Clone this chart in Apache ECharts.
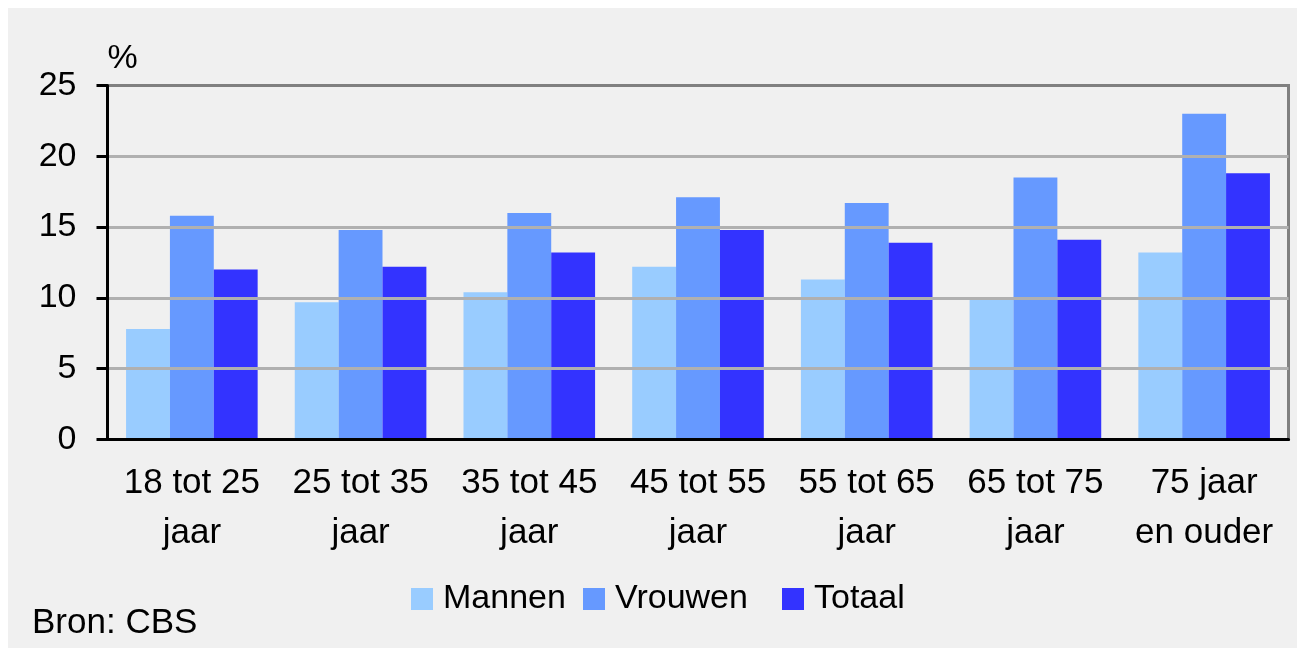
<!DOCTYPE html>
<html>
<head>
<meta charset="utf-8">
<script src="https://cdn.jsdelivr.net/npm/echarts@6/dist/echarts.min.js"></script>
<style>
  html, body { margin: 0; padding: 0; background: #ffffff; }
  #frame { position: absolute; left: 8px; top: 8px; width: 1289px; height: 640px; background: #f0f0f0; }
  #chart { position: absolute; left: -8px; top: -8px; width: 1305px; height: 656px; }
</style>
</head>
<body>
<div id="frame"><div id="chart"></div></div>
<script>
const categories = ['18 tot 25\njaar', '25 tot 35\njaar', '35 tot 45\njaar', '45 tot 55\njaar', '55 tot 65\njaar', '65 tot 75\njaar', '75 jaar\nen ouder'];
const mannen   = [7.8, 9.7, 10.4, 12.2, 11.3, 9.9, 13.2];
const vrouwen  = [15.8, 14.8, 16.0, 17.1, 16.7, 18.5, 23.0];
const totaal   = [12.0, 12.2, 13.2, 14.8, 13.9, 14.1, 18.8];
const seriesNames = ['Mannen', 'Vrouwen', 'Totaal'];
const sourceText = 'Bron: CBS';
const unitText = '%';

const FONT = "'Liberation Sans', Arial, sans-serif";
const legendLefts = [411, 583, 782];
const legends = seriesNames.map((n, i) => ({
  data: [n], left: legendLefts[i], top: 582, padding: 0,
  icon: 'rect', itemWidth: 22, itemHeight: 22, itemGap: 0,
  textStyle: { fontFamily: FONT, fontSize: 34, color: '#000', padding: [0, 0, 0, 5] }
}));

const chart = echarts.init(document.getElementById('chart'), null, { renderer: 'canvas' });
chart.setOption({
  backgroundColor: 'transparent',
  animation: false,
  textStyle: { fontFamily: FONT, color: '#000' },
  grid: {
    left: 107.5, right: 16.5, top: 85.5, bottom: 216.5,
    show: true, borderColor: '#808080', borderWidth: 3, backgroundColor: 'transparent'
  },
  title: {
    text: sourceText, left: 27, top: 601,
    textStyle: { fontFamily: FONT, fontSize: 35, fontWeight: 'normal', color: '#000' }
  },
  legend: legends,
  xAxis: {
    type: 'category', data: categories,
    axisLine: { show: true, lineStyle: { color: '#000', width: 3 } },
    axisTick: { show: false },
    axisLabel: { interval: 0, fontFamily: FONT, fontSize: 35, color: '#000', lineHeight: 50, margin: 19 },
    z: 5
  },
  yAxis: {
    type: 'value', min: 0, max: 25, interval: 5,
    name: unitText, nameLocation: 'end', nameGap: 10,
    nameTextStyle: { fontFamily: FONT, fontSize: 34, color: '#000', align: 'left', padding: [0, 0, 0, 0] },
    axisLine: { show: true, lineStyle: { color: '#000', width: 3 } },
    axisTick: { show: true, length: 11, lineStyle: { color: '#000', width: 3 } },
    axisLabel: { fontFamily: FONT, fontSize: 34, color: '#000', margin: 31 },
    splitLine: { show: true, lineStyle: { color: ['#b0b0b0', '#b0b0b0', '#b0b0b0', '#b0b0b0', '#b0b0b0', '#808080'], width: 3 } },
    z: 5
  },
  series: [
    { name: seriesNames[0], type: 'bar', data: mannen, itemStyle: { color: '#99ccff' }, barGap: '0%', barCategoryGap: '22%' },
    { name: seriesNames[1], type: 'bar', data: vrouwen, itemStyle: { color: '#6699ff' }, barGap: '0%', barCategoryGap: '22%' },
    { name: seriesNames[2], type: 'bar', data: totaal, itemStyle: { color: '#3333ff' }, barGap: '0%', barCategoryGap: '22%' }
  ]
});
</script>
</body>
</html>
